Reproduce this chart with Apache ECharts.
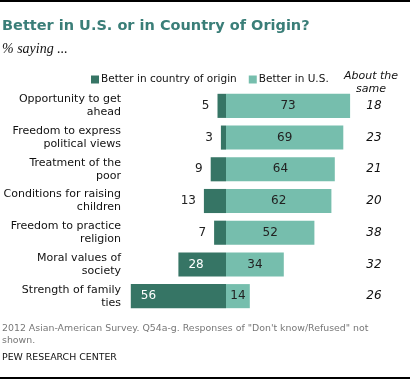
<!DOCTYPE html>
<html><head><meta charset="utf-8">
<script src="https://cdn.jsdelivr.net/npm/echarts@6/dist/echarts.min.js"></script>
<style>html,body{margin:0;padding:0;background:#fff}#c{width:410px;height:380px}</style>
</head><body><div id="c"></div>
<script>
var categories = ["Opportunity to get\nahead","Freedom to express\npolitical views","Treatment of the\npoor","Conditions for raising\nchildren","Freedom to practice\nreligion","Moral values of\nsociety","Strength of family\nties"];
var originVals = [5, 3, 9, 13, 7, 28, 56];
var usVals = [73, 69, 64, 62, 52, 34, 14];
var sameVals = [18, 23, 21, 20, 38, 32, 26];

var DARK = '#367565', LIGHT = '#76bead';
var FONT = 'DejaVu Sans';
var chart = echarts.init(document.getElementById('c'));

var originData = originVals.map(function(v){
  var inside = v >= 20;
  return {value: -v, label: {position: inside ? 'insideLeft' : 'left', color: inside ? '#fff' : '#222', distance: inside ? 10 : 8}};
});

chart.setOption({
  animation: false,
  textStyle: {fontFamily: FONT},
  title: [
    {text: 'Better in U.S. or in Country of Origin?', left: 2, top: 19, padding: 0, textStyle: {fontSize: 14.5, fontWeight: 'bold', color: '#3a7e78', fontFamily: FONT}},
    {text: '% saying ...', left: 2, top: 42, padding: 0, textStyle: {fontSize: 14, fontStyle: 'italic', fontWeight: 'normal', color: '#111', fontFamily: 'Liberation Serif'}},
    {text: 'About the\nsame', left: 371, top: 70, padding: 0, textAlign: 'center', textStyle: {fontSize: 11, fontStyle: 'italic', fontWeight: 'normal', color: '#111', lineHeight: 13, fontFamily: FONT}},
    {text: '2012 Asian-American Survey. Q54a-g. Responses of "Don\'t know/Refused" not\nshown.', left: 2, top: 323, padding: 0, textStyle: {fontSize: 9.4, fontWeight: 'normal', color: '#777', lineHeight: 12, fontFamily: FONT}},
    {text: 'PEW RESEARCH CENTER', left: 2, top: 353, padding: 0, textStyle: {fontSize: 9.4, fontWeight: 'normal', color: '#111', fontFamily: FONT}}
  ],
  graphic: [
    {type: 'rect', shape: {x: 0, y: 0, width: 410, height: 2}, style: {fill: '#000'}},
    {type: 'rect', shape: {x: 0, y: 377, width: 410, height: 2}, style: {fill: '#000'}}
  ],
  legend: {
    left: 86, top: 69, itemWidth: 8, itemHeight: 8, itemGap: 12, icon: 'rect',
    textStyle: {fontSize: 10.5, color: '#111', padding: [0,0,0,-3]},
    data: ['Better in country of origin', 'Better in U.S.']
  },
  grid: {left: 124, right: 48, top: 90, bottom: 68},
  xAxis: {type: 'value', min: -60, max: 80, show: false},
  yAxis: [
    {type: 'category', data: categories, inverse: true, axisLine: {show: false}, axisTick: {show: false},
     axisLabel: {margin: 3, fontSize: 11, color: '#111', lineHeight: 13, align: 'right'}},
    {type: 'category', data: sameVals, inverse: true, position: 'right', axisLine: {show: false}, axisTick: {show: false},
     axisLabel: {margin: 12, fontSize: 12, fontStyle: 'italic', color: '#111', align: 'center'}}
  ],
  series: [
    {name: 'Better in country of origin', type: 'bar', data: originData, barWidth: '76%', barGap: '-100%',
     itemStyle: {color: DARK},
     label: {show: true, fontSize: 12, formatter: function(p){return Math.abs(p.value);}}},
    {name: 'Better in U.S.', type: 'bar', data: usVals, barWidth: '76%', itemStyle: {color: LIGHT},
     label: {show: true, position: 'inside', fontSize: 12, color: '#222'}}
  ]
});
</script></body></html>
